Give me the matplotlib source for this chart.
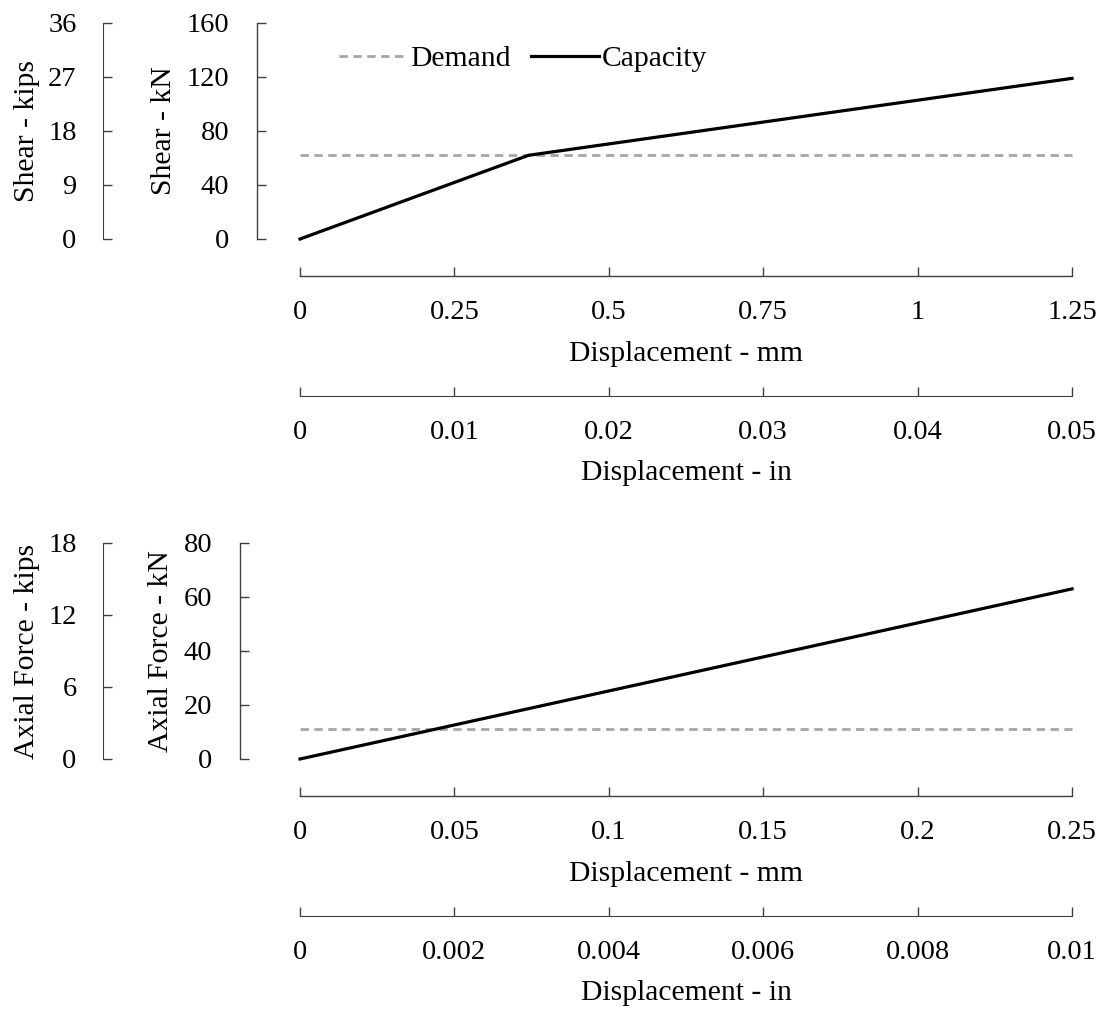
import numpy as np
import matplotlib
matplotlib.use("Agg")
import matplotlib.pyplot as plt

plt.rcParams['font.family'] = ['Liberation Serif', 'DejaVu Serif']
plt.rcParams['font.size'] = 20.5

# shear panel data
shear_disp_mm = [0, 0.37, 1.25]
shear_capacity_kN = [0, 62, 119]
shear_demand_kN = 62

# axial panel data
axial_disp_mm = [0, 0.25]
axial_capacity_kN = [0, 63]
axial_demand_kN = 11

shear_kN_ticks = [0, 40, 80, 120, 160]
shear_kips_ticks = [0, 9, 18, 27, 36]
shear_mm_ticks = [0, 0.25, 0.5, 0.75, 1, 1.25]
shear_in_ticks = [0, 0.01, 0.02, 0.03, 0.04, 0.05]

axial_kN_ticks = [0, 20, 40, 60, 80]
axial_kips_ticks = [0, 6, 12, 18]
axial_mm_ticks = [0, 0.05, 0.1, 0.15, 0.2, 0.25]
axial_in_ticks = [0, 0.002, 0.004, 0.006, 0.008, 0.01]

W, H = 1104, 1011
PT = 72 / 100  # pixels -> points
LAB = 21.3
spine_col = '#404040'
demand_col = '#a6a6a6'


def fmt(v):
    return ('%g' % v)


def panel(top_px, kN_out, kN_ticks, kips_ticks, mm_ticks, in_ticks,
          xs, cap, dem, ylab_kN, ylab_kips, legend=False):
    left, right, bottom = 300, 1072, top_px + 216
    ax = fig.add_axes([left / W, 1 - bottom / H, (right - left) / W, 216 / H])
    ax.plot([mm_ticks[0], mm_ticks[-1]], [dem, dem], color=demand_col,
            lw=2.0, ls=(0, (3, 2)), label='Demand', clip_on=False)
    ax.plot(xs, cap, color='black', lw=2.3, label='Capacity', clip_on=False)
    ax.set_xlim(mm_ticks[0], mm_ticks[-1])
    ax.set_ylim(kN_ticks[0], kN_ticks[-1])
    for s in ['top', 'right']:
        ax.spines[s].set_visible(False)
    ax.spines['left'].set_position(('outward', kN_out * PT))
    ax.spines['bottom'].set_position(('outward', 37 * PT))
    for s in ['left', 'bottom']:
        ax.spines[s].set_color(spine_col)
        ax.spines[s].set_linewidth(1.0)
    ax.set_yticks(kN_ticks)
    ax.set_yticklabels([fmt(t) for t in kN_ticks])
    ax.set_xticks(mm_ticks)
    ax.set_xticklabels([fmt(t) for t in mm_ticks])
    ax.tick_params(axis='y', direction='in', length=6.5, width=1.0,
                   color=spine_col, pad=20)
    ax.tick_params(axis='x', direction='in', length=6.5, width=1.0,
                   color=spine_col, pad=17)
    ax.set_ylabel(ylab_kN, labelpad=7, fontsize=LAB)
    ax.set_xlabel('Displacement - mm', labelpad=12, fontsize=LAB)

    # kips axis
    ak = ax.twinx()
    ak.set_ylim(kips_ticks[0], kips_ticks[-1])
    for s in ['top', 'right', 'bottom']:
        ak.spines[s].set_visible(False)
    ak.spines['left'].set_visible(True)
    ak.spines['left'].set_position(('outward', 197 * PT))
    ak.spines['left'].set_color(spine_col)
    ak.yaxis.tick_left()
    ak.yaxis.set_label_position('left')
    ak.set_yticks(kips_ticks)
    ak.set_yticklabels([fmt(t) for t in kips_ticks])
    ak.tick_params(axis='y', direction='in', length=6.5, width=1.0,
                   color=spine_col, pad=19)
    ak.set_ylabel(ylab_kips, labelpad=6, fontsize=LAB)

    # inch axis
    ai = ax.twiny()
    ai.set_xlim(in_ticks[0], in_ticks[-1])
    for s in ['top', 'right', 'left']:
        ai.spines[s].set_visible(False)
    ai.spines['bottom'].set_visible(True)
    ai.spines['bottom'].set_position(('outward', 157 * PT))
    ai.spines['bottom'].set_color(spine_col)
    ai.xaxis.tick_bottom()
    ai.xaxis.set_label_position('bottom')
    ai.set_xticks(in_ticks)
    ai.set_xticklabels([fmt(t) for t in in_ticks])
    ai.tick_params(axis='x', direction='in', length=6.5, width=1.0,
                   color=spine_col, pad=17)
    ai.set_xlabel('Displacement - in', labelpad=11, fontsize=LAB)

    if legend:
        ax.legend(loc='center left', bbox_to_anchor=(0.035, 0.833), ncol=2,
                  frameon=False, handlelength=2.3, handletextpad=0.1,
                  columnspacing=0.7, borderaxespad=0, fontsize=LAB)
    return ax


fig = plt.figure(figsize=(W / 100, H / 100), dpi=100)
panel(23, 43, shear_kN_ticks, shear_kips_ticks, shear_mm_ticks, shear_in_ticks,
      shear_disp_mm, shear_capacity_kN, shear_demand_kN,
      'Shear - kN', 'Shear - kips', legend=True)
panel(543, 60, axial_kN_ticks, axial_kips_ticks, axial_mm_ticks, axial_in_ticks,
      axial_disp_mm, axial_capacity_kN, axial_demand_kN,
      'Axial Force - kN', 'Axial Force - kips')

fig.savefig('out.png', dpi=100)
